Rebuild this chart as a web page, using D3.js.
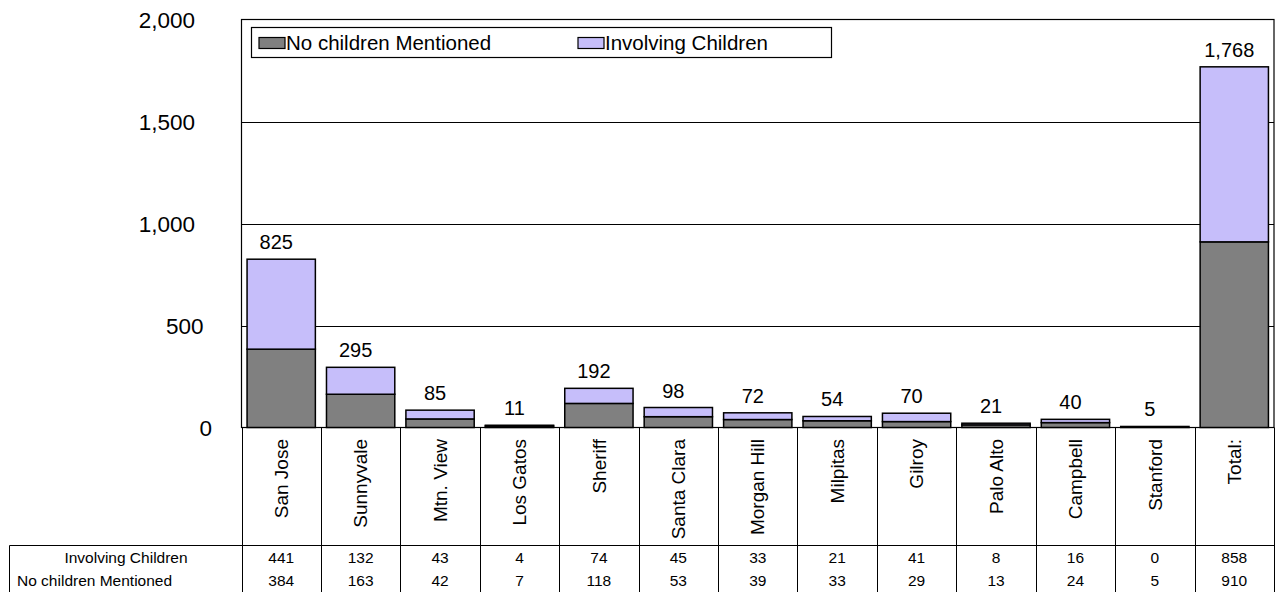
<!DOCTYPE html>
<html>
<head>
<meta charset="utf-8">
<script src="https://cdn.jsdelivr.net/npm/d3@7"></script>
<style>
  body { margin: 0; background: #fff; }
  svg { display: block; font-family: Arial, "Liberation Sans", sans-serif; }
</style>
</head>
<body>
<svg id="chart" width="1275" height="592"></svg>
<script>
// data
var categories = ["San Jose", "Sunnyvale", "Mtn. View", "Los Gatos", "Sheriff", "Santa Clara",
  "Morgan Hill", "Milpitas", "Gilroy", "Palo Alto", "Campbell", "Stanford", "Total:"];
var involving = [441, 132, 43, 4, 74, 45, 33, 21, 41, 8, 16, 0, 858];
var noChildren = [384, 163, 42, 7, 118, 53, 39, 33, 29, 13, 24, 5, 910];
var yTicks = [0, 500, 1000, 1500, 2000];
var seriesNames = ["No children Mentioned", "Involving Children"];

var colNo = "#808080";
var colInv = "#c6befa";

width = 1275;
height = 592;

var plot = { left: 241.5, right: 1274, top: 19.5, bottom: 427.5 };

const svg = d3.select("#chart");

const x = d3.scaleBand().domain(categories).range([plot.left, plot.right]).paddingInner(0.14).paddingOuter(0.07);
const xCol = d3.scaleBand().domain(categories).range([plot.left, plot.right]);
const y = d3.scaleLinear().domain([0, 2000]).range([plot.bottom, plot.top]);

// gridlines
svg.append("g").selectAll("line")
  .data(yTicks.filter(d => d > 0 && d < 2000))
  .enter().append("line")
  .attr("x1", plot.left).attr("x2", plot.right)
  .attr("y1", d => Math.round(y(d)) + 0.5).attr("y2", d => Math.round(y(d)) + 0.5)
  .attr("stroke", "#000").attr("stroke-width", 1);

// plot frame
svg.append("rect")
  .attr("x", plot.left).attr("y", plot.top)
  .attr("width", plot.right - plot.left).attr("height", plot.bottom - plot.top)
  .attr("fill", "none").attr("stroke", "#000").attr("stroke-width", 1.2);

// y tick labels (excel staggers them a bit, shorter labels sit further right)
const fmt = d3.format(",");
svg.append("g").selectAll("text")
  .data(yTicks)
  .enter().append("text")
  .attr("x", d => 212 - (fmt(d).length - 1) * 4.25)
  .attr("y", d => y(d) + 1)
  .attr("dy", "0.35em")
  .attr("text-anchor", "end")
  .attr("font-size", 22.5)
  .text(d => fmt(d));

// stacked bars
const rows = categories.map((c, i) => ({ cat: c, no: noChildren[i], inv: involving[i], total: noChildren[i] + involving[i] }));

const bars = svg.append("g");
bars.selectAll(".no")
  .data(rows).enter().append("rect")
  .attr("class", "no")
  .attr("x", d => x(d.cat))
  .attr("width", x.bandwidth())
  .attr("y", d => y(d.no))
  .attr("height", d => y(0) - y(d.no))
  .attr("fill", colNo).attr("stroke", "#000").attr("stroke-width", 1.5);

bars.selectAll(".inv")
  .data(rows).enter().append("rect")
  .attr("class", "inv")
  .attr("x", d => x(d.cat))
  .attr("width", x.bandwidth())
  .attr("y", d => y(d.total))
  .attr("height", d => y(d.no) - y(d.total))
  .attr("fill", colInv).attr("stroke", "#000").attr("stroke-width", 1.5);

// total labels, sit a little left of bar centre like the original
bars.selectAll(".lbl")
  .data(rows).enter().append("text")
  .attr("class", "lbl")
  .attr("x", d => x(d.cat) + x.bandwidth() / 2 - 5)
  .attr("y", d => y(d.total) - 10)
  .attr("text-anchor", "middle")
  .attr("font-size", 20)
  .text(d => fmt(d.total));

// category cells
const tbl = svg.append("g");
const tableTop = 545.5;
const rowY = [558, 580.5];

tbl.append("line")
  .attr("x1", 9.5).attr("x2", width)
  .attr("y1", tableTop).attr("y2", tableTop)
  .attr("stroke", "#000");
tbl.append("line")
  .attr("x1", 9.5).attr("x2", 9.5)
  .attr("y1", tableTop).attr("y2", height)
  .attr("stroke", "#000");

tbl.selectAll(".vline")
  .data(categories.concat(["end"]))
  .enter().append("line")
  .attr("class", "vline")
  .attr("x1", (d, i) => Math.round(i < categories.length ? xCol(d) : plot.right) + 0.5)
  .attr("x2", (d, i) => Math.round(i < categories.length ? xCol(d) : plot.right) + 0.5)
  .attr("y1", plot.bottom).attr("y2", height)
  .attr("stroke", "#000");

tbl.selectAll(".cat")
  .data(categories).enter().append("text")
  .attr("class", "cat")
  .attr("transform", d => "translate(" + (xCol(d) + xCol.bandwidth() / 2) + ",439) rotate(-90)")
  .attr("dy", "0.35em")
  .attr("text-anchor", "end")
  .attr("font-size", 19)
  .text(d => d);

// row headers
tbl.append("text")
  .attr("x", 126).attr("y", rowY[0]).attr("dy", "0.35em")
  .attr("text-anchor", "middle").attr("font-size", 15.5)
  .text(seriesNames[1]);
tbl.append("text")
  .attr("x", 17).attr("y", rowY[1]).attr("dy", "0.35em")
  .attr("text-anchor", "start").attr("font-size", 15.5)
  .text(seriesNames[0]);

[involving, noChildren].forEach(function (vals, r) {
  tbl.selectAll(".v" + r)
    .data(vals).enter().append("text")
    .attr("class", "v" + r)
    .attr("x", (d, i) => xCol(categories[i]) + xCol.bandwidth() / 2)
    .attr("y", rowY[r]).attr("dy", "0.35em")
    .attr("text-anchor", "middle").attr("font-size", 15.5)
    .text(d => d);
});

// legend
const leg = svg.append("g");
leg.append("rect")
  .attr("x", 251.5).attr("y", 27.5).attr("width", 580).attr("height", 30)
  .attr("fill", "#fff").attr("stroke", "#000").attr("stroke-width", 1.2);

const legX = [259, 578];
leg.selectAll(".sw")
  .data(seriesNames).enter().append("rect")
  .attr("class", "sw")
  .attr("x", (d, i) => legX[i]).attr("y", 37.5)
  .attr("width", 26).attr("height", 11)
  .attr("fill", (d, i) => i === 0 ? colNo : colInv)
  .attr("stroke", "#000").attr("stroke-width", 1.2);
leg.selectAll(".lt")
  .data(seriesNames).enter().append("text")
  .attr("class", "lt")
  .attr("x", (d, i) => legX[i] + 27).attr("y", 43)
  .attr("dy", "0.35em")
  .attr("font-size", 20.5)
  .text(d => d);
</script>
</body>
</html>
